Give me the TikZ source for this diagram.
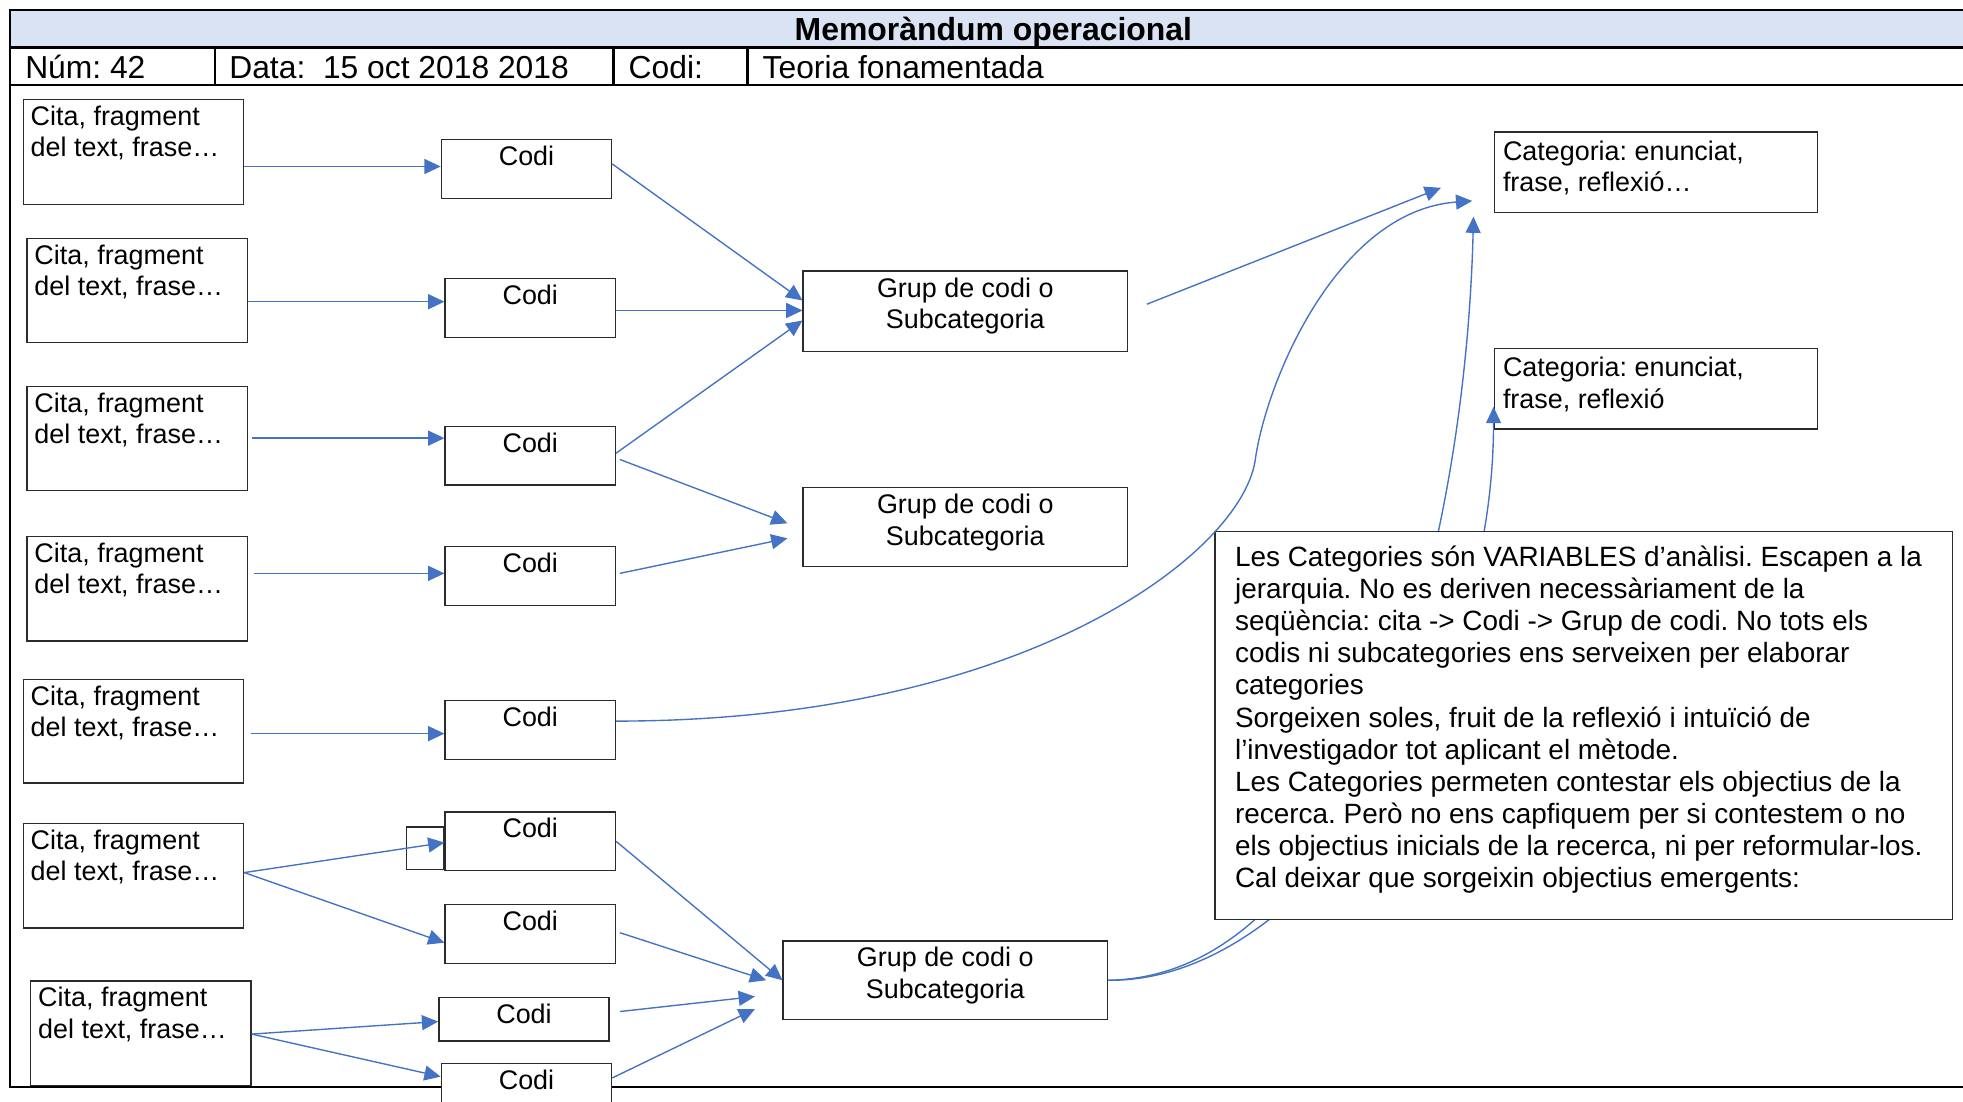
\documentclass[tikz,border=0pt]{standalone}
\usepackage{fontspec}
\setmainfont{Liberation Sans}
\usetikzlibrary{arrows.meta,calc}

\definecolor{linkblue}{HTML}{4472C4}
\definecolor{headfill}{HTML}{DAE3F3}
\definecolor{boxline}{HTML}{2B2B2B}

% fixed-size text area, text hangs from the top
\newcommand\inbox[3]{\parbox[t][#2][t]{#1}{#3}}
\newcommand\bodysize{\fontsize{21.5}{25}\selectfont}
\newcommand\notesize{\fontsize{22.3}{25.65}\selectfont}
\newcommand\rowsize{\fontsize{25.4}{30}\selectfont}
\newcommand\titlesize{\fontsize{25.5}{30}\selectfont}
\newcommand\citatext{\raggedright\strut Cita, fragment\\del text, frase…}
\newcommand\coditext{\centering\strut Codi}
\newcommand\gruptext{\centering\strut Grup de codi o\\Subcategoria}

\begin{document}
\frenchspacing
\begin{tikzpicture}[x=1pt,y=-1pt,
  frame/.style={line width=1.8pt, draw=black},
  box/.style={draw=boxline, line width=1.1pt, fill=white, anchor=north west,
              inner xsep=6pt, inner ysep=3.3pt, font=\bodysize},
  arr/.style={draw=linkblue, line width=1.1pt,
              -{Triangle[length=13pt,width=12pt]}},
  label/.style={inner sep=0pt, anchor=base west, font=\rowsize}]

\useasboundingbox (0,0) rectangle (1568,880);
\clip (0,0) rectangle (1568,880);

% ---- form header ----
\fill[headfill] (8,8) rectangle (1572,38);
\draw[frame] (1572,8) -- (8,8) -- (8,868) -- (1572,868);
\draw[frame] (8,38) -- (1572,38);
\draw[frame] (8,68) -- (1572,68);
\draw[frame] (172,38) -- (172,68);
\draw[frame] (490,38) -- (490,68);
\draw[frame] (597,38) -- (597,68);

\node[inner sep=0pt, anchor=base, font=\titlesize\bfseries] (title) at (793.5,32) {Memoràndum operacional};
\node[label] (num) at (20,62.5) {Núm: 42};
\node[label] (data) at (183,62.5) {Data:\ \ 15 oct 2018 2018};
\node[label] (codilbl) at (502,62.5) {Codi:};
\node[label] (teoria) at (609,62.5) {Teoria fonamentada};

% ---- quotations ----
\node[box] (cita1) at (18,79)  {\inbox{164pt}{77pt}{\citatext}};
\node[box] (cita2) at (21,190) {\inbox{164pt}{76.4pt}{\citatext}};
\node[box] (cita3) at (21,308) {\inbox{164pt}{76.4pt}{\citatext}};
\node[box] (cita4) at (21,428) {\inbox{164pt}{77pt}{\citatext}};
\node[box] (cita5) at (18,542) {\inbox{164pt}{76.4pt}{\citatext}};
\node[box] (cita6) at (18,657) {\inbox{164pt}{77pt}{\citatext}};
\node[box] (cita7) at (24,783) {\inbox{164pt}{77pt}{\citatext}};

% ---- codes ----
\node[box] (codi1) at (352,111) {\inbox{124pt}{40.4pt}{\coditext}};
\node[box] (codi2) at (355,222) {\inbox{124pt}{40.4pt}{\coditext}};
\node[box] (codi3) at (355,340) {\inbox{124pt}{40.4pt}{\coditext}};
\node[box] (codi4) at (355,436) {\inbox{124pt}{40.4pt}{\coditext}};
\node[box] (codi5) at (355,559) {\inbox{124pt}{40.4pt}{\coditext}};
\node[box] (codi6) at (355,648) {\inbox{124pt}{40.4pt}{\coditext}};
\node[draw=boxline, line width=1.1pt, minimum width=30pt, minimum height=34pt,
      inner sep=0pt, anchor=north east] (tab6) at (codi6.west |- 0,660) {};
\node[box] (codi7) at (355,722) {\inbox{124pt}{40.4pt}{\coditext}};
\node[box] (codi8) at (350,796) {\inbox{124pt}{28.4pt}{\coditext}};
\node[box] (codi9) at (352,849) {\inbox{124pt}{53.4pt}{\coditext}};

% ---- code groups ----
\node[box] (grup1) at (641,216) {\inbox{247pt}{57.4pt}{\gruptext}};
\node[box] (grup2) at (641,389) {\inbox{247pt}{56.4pt}{\gruptext}};
\node[box] (grup3) at (625,751) {\inbox{247pt}{56.4pt}{\gruptext}};

% ---- categories ----
\node[box, inner xsep=7pt, inner ysep=5pt] (cat1) at (1193,105)
  {\inbox{244pt}{54pt}{\raggedright\strut Categoria: enunciat,\\frase, reflexió…}};
\node[box, inner xsep=7pt, inner ysep=5pt] (cat2) at (1193,278)
  {\inbox{244pt}{54pt}{\raggedright\strut Categoria: enunciat,\\frase, reflexió}};

% ---- quotation -> code ----
\draw[arr] (cita1.east |- 0,133) -- (codi1.west |- 0,133);
\draw[arr] (cita2.east |- 0,241) -- (codi2.west |- 0,241);
\draw[arr] ($(cita3.east |- 0,350)+(3,0)$) -- (codi3.west |- 0,350);
\draw[arr] ($(cita4.east |- 0,458)+(5,0)$) -- (codi4.west |- 0,458);
\draw[arr] ($(cita5.east |- 0,586)+(5,0)$) -- (codi5.west |- 0,586);
\draw[arr] (cita6.east |- 0,697) -- (codi6.west |- 0,673);
\draw[arr] (cita6.east |- 0,697) -- (codi7.west |- 0,753);
\draw[arr] (cita7.east |- 0,826) -- (codi8.west |- 0,816);
\draw[arr] (cita7.east |- 0,826) -- (codi9.west |- 0,860);

% ---- code -> group ----
\draw[arr] (codi1.east |- 0,131) -- (grup1.west |- 0,240);
\draw[arr] (codi2.east |- 0,248) -- (grup1.west |- 0,248);
\draw[arr] (codi3.east |- 0,362) -- (grup1.west |- 0,256);
\draw[arr] ($(codi3.east |- 0,367)+(3,0)$) -- ($(grup2.west |- 0,418)+(-12,0)$);
\draw[arr] ($(codi4.east |- 0,458)+(3,0)$) -- ($(grup2.west |- 0,430)+(-12,0)$);
\draw[arr] (codi6.east |- 0,672) -- (grup3.west |- 0,783);
\draw[arr] ($(codi7.east |- 0,745)+(3,0)$) -- ($(grup3.west |- 0,783)+(-13,0)$);
\draw[arr] ($(codi8.east |- 0,808)+(8,0)$) -- ($(grup3.west |- 0,796)+(-22,0)$);
\draw[arr] (codi9.east |- 0,861) -- ($(grup3.west |- 0,806)+(-22,0)$);

% ---- group -> category ----
\coordinate (tipB) at (1151,150);
\draw[arr] ($(grup1.east |- 0,243)+(15,0)$) -- (tipB);

\coordinate (tipC) at (1177,173);
\draw[arr] (grup3.east |- 0,783) .. controls (1080,780) and (1170,450) .. (tipC);
\draw[arr] (grup3.east |- 0,783) .. controls (1040,785) and (1193,560) .. (cat2.west |- 0,325);

% ---- note ----
\node[box, font=\notesize, inner xsep=16pt, inner ysep=10pt] (note) at (970,424)
  {\inbox{557pt}{290pt}{\raggedright\strut
   Les Categories són VARIABLES d’anàlisi. Escapen a la\\
   jerarquia. No es deriven necessàriament de la\\
   seqüència: cita -> Codi -> Grup de codi. No tots els\\
   codis ni subcategories ens serveixen per elaborar\\
   categories\\
   Sorgeixen soles, fruit de la reflexió i intuïció de\\
   l’investigador tot aplicant el mètode.\\
   Les Categories permeten contestar els objectius de la\\
   recerca. Però no ens capfiquem per si contestem o no\\
   els objectius inicials de la recerca, ni per reformular-los.\\
   Cal deixar que sorgeixin objectius emergents:}};

% ---- code that jumps straight to a category ----
\coordinate (bendA) at (1003,365);
\coordinate (tipA) at (1176,160.5);
\draw[arr] (codi5.east |- 0,576) .. controls (820,576) and (995,440) .. (bendA)
           .. controls (1013,300) and (1070,168) .. (tipA);

\end{tikzpicture}
\end{document}
